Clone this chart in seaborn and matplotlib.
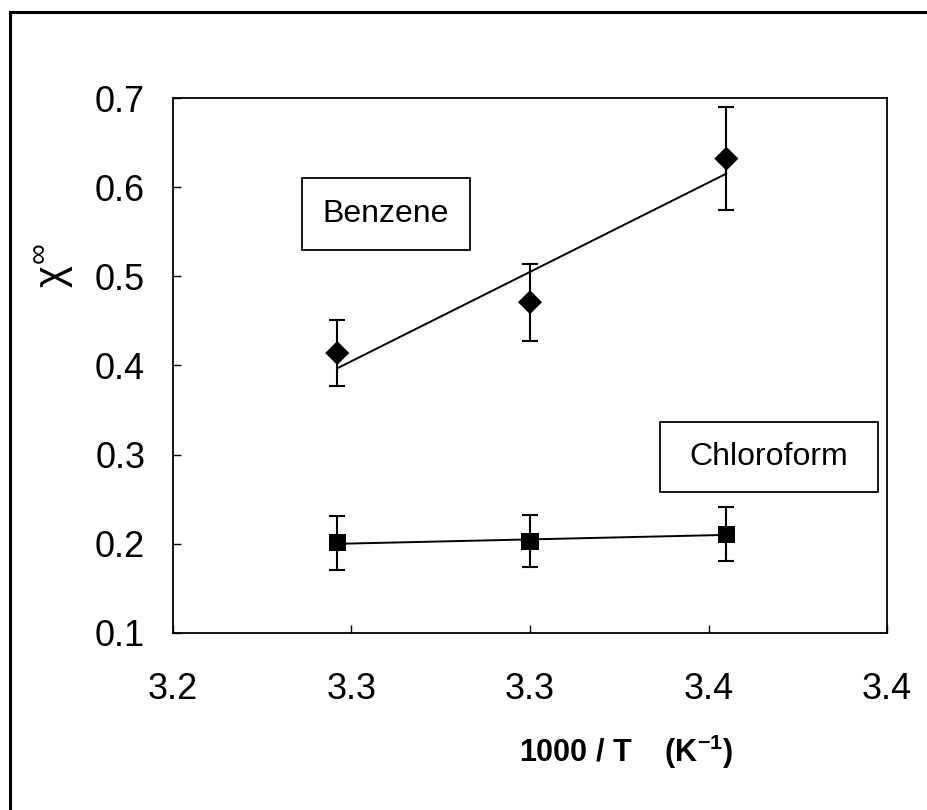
import numpy as np
import pandas as pd
import matplotlib
matplotlib.use("Agg")
import matplotlib.pyplot as plt
from matplotlib.patches import Rectangle
import seaborn as sns

# Infinite-dilution interaction parameter vs inverse temperature
inv_T = [3.246, 3.300, 3.355]            # 1000 / T  (K^-1)
benzene_chi = [0.414, 0.471, 0.632]
benzene_err = [0.037, 0.043, 0.058]
chloroform_chi = [0.201, 0.203, 0.211]
chloroform_err = [0.030, 0.029, 0.030]

x_ticks = [3.20, 3.25, 3.30, 3.35, 3.40]
x_tick_labels = ["3.2", "3.3", "3.3", "3.4", "3.4"]
y_ticks = [0.1, 0.2, 0.3, 0.4, 0.5, 0.6, 0.7]
y_tick_labels = ["0.1", "0.2", "0.3", "0.4", "0.5", "0.6", "0.7"]

sns.set_theme(style="white")
plt.rcParams["font.family"] = ["Liberation Sans", "DejaVu Sans"]
plt.rcParams["mathtext.fontset"] = "custom"
plt.rcParams["mathtext.rm"] = "Liberation Sans"
plt.rcParams["mathtext.it"] = "Liberation Sans"
plt.rcParams["mathtext.bf"] = "Liberation Sans:bold"

W, H = 928, 810
fig = plt.figure(figsize=(W / 100, H / 100), dpi=100)
fig.patch.set_facecolor("white")


def fx(px):
    return px / W


def fy(py):
    return 1 - py / H


ax = fig.add_axes([fx(173), fy(633), fx(887) - fx(173), fy(98) - fy(633)])
ax.set_facecolor("white")

df = pd.DataFrame({
    "x": inv_T * 2,
    "chi": benzene_chi + chloroform_chi,
    "err": benzene_err + chloroform_err,
    "solvent": ["Benzene"] * 3 + ["Chloroform"] * 3,
})

# Error bars
for solvent, sub in df.groupby("solvent"):
    ax.errorbar(sub["x"], sub["chi"], yerr=sub["err"], fmt="none",
                ecolor="black", elinewidth=1.5, capsize=6, capthick=1.5,
                zorder=2)

# Least-squares trend lines over the measured range
for solvent, sub in df.groupby("solvent"):
    k, b = np.polyfit(sub["x"], sub["chi"], 1)
    xs = np.array([sub["x"].min(), sub["x"].max()])
    fit = pd.DataFrame({"x": xs, "y": k * xs + b})
    sns.lineplot(data=fit, x="x", y="y", ax=ax, color="black",
                 linewidth=1.4, zorder=3)

# Data markers
sns.scatterplot(data=df, x="x", y="chi", style="solvent",
                markers={"Benzene": "D", "Chloroform": "s"},
                s=150, color="black", edgecolor="black", linewidth=0,
                legend=False, ax=ax, zorder=4)

ax.set_xlim(3.20, 3.40)
ax.set_ylim(0.1, 0.7)
ax.set_xticks(x_ticks)
ax.set_xticklabels(x_tick_labels)
ax.set_yticks(y_ticks)
ax.set_yticklabels(y_tick_labels)
ax.tick_params(axis="both", direction="in", length=6, width=1,
               labelsize=26, colors="black",
               left=True, bottom=True, top=False, right=False)
ax.tick_params(axis="y", pad=20)
ax.tick_params(axis="x", pad=28)
for sp in ax.spines.values():
    sp.set_visible(True)
    sp.set_color("black")
    sp.set_linewidth(1.3)
ax.set_xlabel("")
ax.set_ylabel("")

# Axis titles
fig.text(fx(54), fy(265), r"$\chi^{\infty}$", rotation=90, fontsize=30,
         ha="center", va="center", color="black")
fig.text(fx(626), fy(752), r"1000 / T    (K$^{\mathbf{-1}}$)",
         fontsize=22, fontweight="bold", ha="center", va="center",
         color="black")

# Series labels in boxes
def label_box(x0, y0, x1, y1, text):
    fig.patches.append(Rectangle((fx(x0), fy(y1)), fx(x1) - fx(x0),
                                 fy(y0) - fy(y1), transform=fig.transFigure,
                                 fill=False, edgecolor="black", linewidth=1.3))
    fig.text(fx((x0 + x1) / 2), fy((y0 + y1) / 2), text, fontsize=23,
             ha="center", va="center", color="black")


label_box(302, 178, 470, 250, "Benzene")
label_box(660, 422, 878, 492, "Chloroform")

# Outer chart frame
fig.patches.append(Rectangle((fx(10), fy(H + 20)), fx(W + 20) - fx(10),
                             fy(12) - fy(H + 20), transform=fig.transFigure,
                             fill=False, edgecolor="black", linewidth=2.2))

fig.savefig("out.png", dpi=100, facecolor="white")
